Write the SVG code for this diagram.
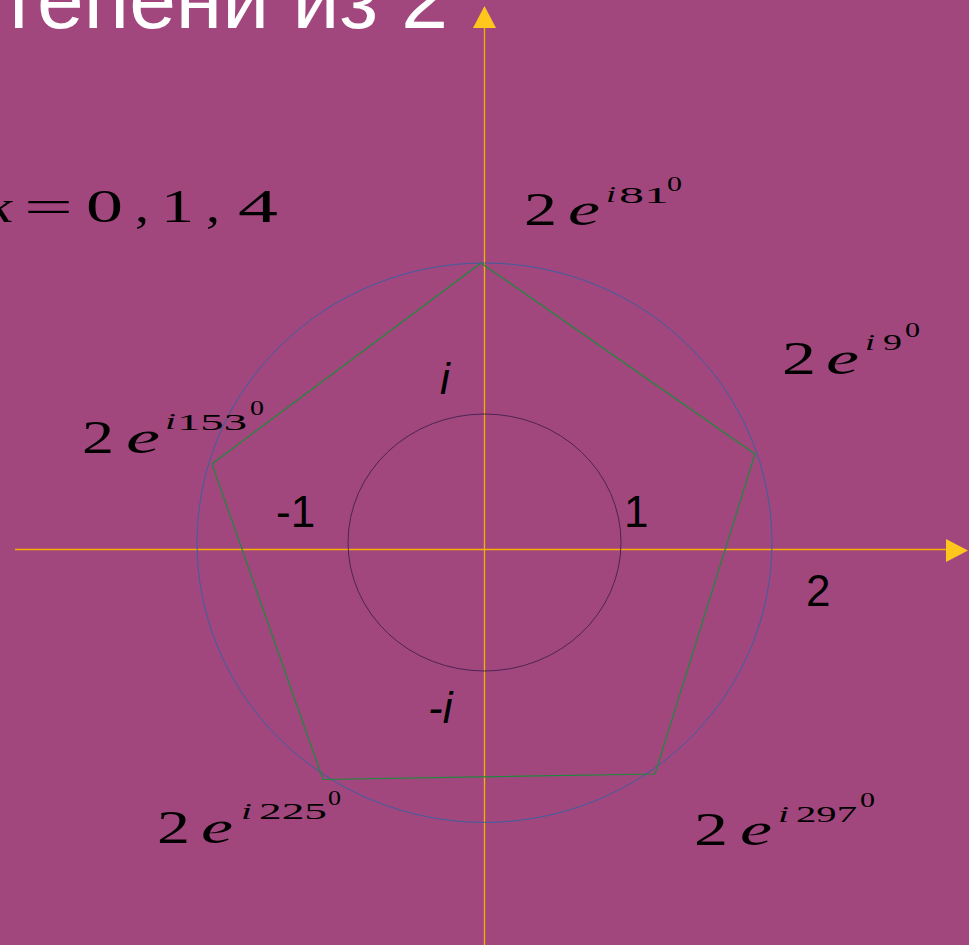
<svg xmlns="http://www.w3.org/2000/svg" width="969" height="945" viewBox="0 0 969 945">
<style>
.m{font-family:"Liberation Serif",serif;fill:#000}
.mi{font-family:"Liberation Serif",serif;font-style:italic;fill:#000}
.s{font-family:"Liberation Sans",Arial,sans-serif;fill:#000;font-size:44px}
.axis{stroke:#F6B100;stroke-width:1.3;fill:none}
.arr{fill:#FFC61E}
</style>
<rect width="969" height="945" fill="#A1477E"/>
<g id="title"><text x="448" y="28" text-anchor="end" font-family="'Liberation Sans',Arial,sans-serif" font-size="84" fill="#fff">тепени из 2</text></g>
<g id="axes">
<line class="axis" x1="484.5" y1="26" x2="484.5" y2="945"/>
<line class="axis" x1="15" y1="549.5" x2="948" y2="549.5"/>
<polygon class="arr" points="484.5,6 473,28 496,28"/>
<polygon class="arr" points="968,550.5 946,539 946,562"/>
</g>
<g id="circles">
<ellipse cx="484.5" cy="542.7" rx="287.5" ry="279.7" fill="none" stroke="#3D5E9E" stroke-width="1"/>
<ellipse cx="484.5" cy="542.5" rx="136.5" ry="128.5" fill="none" stroke="#4D2454" stroke-width="1"/>
</g>
<g id="connectors">
<polygon points="481,263 755,454 655,774 323,779.5 212,464" fill="none" stroke="#1C8A3A" stroke-width="1.2"/>
</g>
<g id="k-values">
<text class="mi" x="-16" y="222" font-size="46" textLength="28" lengthAdjust="spacingAndGlyphs">k</text>
<text class="m" x="24" y="222" font-size="46" textLength="49" lengthAdjust="spacingAndGlyphs">=</text>
<text class="m" x="86" y="222" font-size="46" textLength="37" lengthAdjust="spacingAndGlyphs">0</text>
<text class="m" x="135" y="222" font-size="46" textLength="14" lengthAdjust="spacingAndGlyphs">,</text>
<text class="m" x="161" y="222" font-size="46" textLength="33" lengthAdjust="spacingAndGlyphs">1</text>
<text class="m" x="206" y="222" font-size="46" textLength="14" lengthAdjust="spacingAndGlyphs">,</text>
<text class="m" x="238" y="222" font-size="46" textLength="40" lengthAdjust="spacingAndGlyphs">4</text>
</g>
<g id="root-81">
<text class="m" x="524" y="225" font-size="46" textLength="33" lengthAdjust="spacingAndGlyphs">2</text>
<text class="mi" x="568" y="225" font-size="46" textLength="32" lengthAdjust="spacingAndGlyphs">e</text>
<text class="mi" x="606" y="202" font-size="24" textLength="10" lengthAdjust="spacingAndGlyphs">i</text>
<text class="m" x="619" y="203" font-size="24" textLength="50" lengthAdjust="spacingAndGlyphs">81</text>
<text class="m" x="667" y="191" font-size="20" textLength="15" lengthAdjust="spacingAndGlyphs">0</text>
</g>
<g id="root-9">
<text class="m" x="782" y="374" font-size="46" textLength="34" lengthAdjust="spacingAndGlyphs">2</text>
<text class="mi" x="826" y="374" font-size="46" textLength="33" lengthAdjust="spacingAndGlyphs">e</text>
<text class="mi" x="865" y="350" font-size="24" textLength="10" lengthAdjust="spacingAndGlyphs">i</text>
<text class="m" x="883" y="350" font-size="24" textLength="19" lengthAdjust="spacingAndGlyphs">9</text>
<text class="m" x="905" y="337" font-size="20" textLength="15" lengthAdjust="spacingAndGlyphs">0</text>
</g>
<g id="root-153">
<text class="m" x="82" y="453" font-size="46" textLength="32" lengthAdjust="spacingAndGlyphs">2</text>
<text class="mi" x="126" y="453" font-size="46" textLength="34" lengthAdjust="spacingAndGlyphs">e</text>
<text class="mi" x="165" y="429" font-size="24" textLength="11" lengthAdjust="spacingAndGlyphs">i</text>
<text class="m" x="177" y="430" font-size="24" textLength="70" lengthAdjust="spacingAndGlyphs">153</text>
<text class="m" x="250" y="415" font-size="20" textLength="14" lengthAdjust="spacingAndGlyphs">0</text>
</g>
<g id="root-225">
<text class="m" x="157" y="843" font-size="46" textLength="33" lengthAdjust="spacingAndGlyphs">2</text>
<text class="mi" x="201" y="843" font-size="46" textLength="32" lengthAdjust="spacingAndGlyphs">e</text>
<text class="mi" x="241" y="819" font-size="24" textLength="11" lengthAdjust="spacingAndGlyphs">i</text>
<text class="m" x="259" y="819" font-size="24" textLength="68" lengthAdjust="spacingAndGlyphs">225</text>
<text class="m" x="328" y="805" font-size="20" textLength="13" lengthAdjust="spacingAndGlyphs">0</text>
</g>
<g id="root-297">
<text class="m" x="694" y="845" font-size="46" textLength="34" lengthAdjust="spacingAndGlyphs">2</text>
<text class="mi" x="740" y="845" font-size="46" textLength="32" lengthAdjust="spacingAndGlyphs">e</text>
<text class="mi" x="778" y="822" font-size="24" textLength="11" lengthAdjust="spacingAndGlyphs">i</text>
<text class="m" x="796" y="822" font-size="24" textLength="61" lengthAdjust="spacingAndGlyphs">297</text>
<text class="m" x="860" y="807" font-size="20" textLength="15" lengthAdjust="spacingAndGlyphs">0</text>
</g>
<g id="label-i"><text class="s" x="440" y="394" font-style="italic">i</text></g>
<g id="label-minus1"><text class="s" x="276" y="527">-1</text></g>
<g id="label-1"><text class="s" x="624" y="527">1</text></g>
<g id="label-2"><text class="s" x="806" y="606">2</text></g>
<g id="label-minus-i"><text class="s" x="428" y="723" font-style="italic">-i</text></g>
</svg>
